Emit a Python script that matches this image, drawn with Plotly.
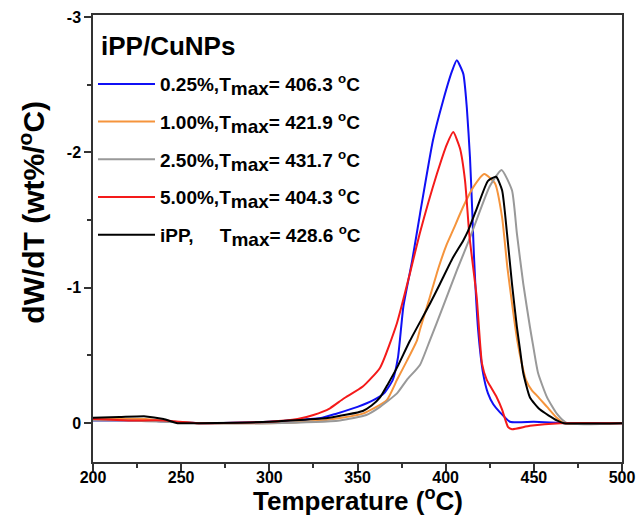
import plotly.graph_objects as go

# ---- data ----
t_blue = [200, 215, 230, 245, 260, 300, 330, 338, 350, 359, 365, 370, 373, 376, 381, 385.5, 392.8,
          398.5, 403.6, 406.3, 410, 412, 413.8, 415, 416, 418.4, 421.2, 424, 427, 430.8, 436.5, 450, 470, 500]
v_blue = [-0.02, -0.02, -0.02, -0.01, 0, -0.01, -0.04, -0.07, -0.12, -0.17, -0.22, -0.32, -0.49, -0.86,
          -1.2, -1.55, -2.09, -2.38, -2.6, -2.68, -2.58, -2.33, -1.96, -1.59, -1.25, -0.69, -0.37, -0.22,
          -0.14, -0.08, -0.01, -0.01, 0, 0]

t_orange = [200, 215, 230, 245, 260, 300, 330, 353, 366.6, 372.4, 378, 383.7, 385.4, 391, 396, 400.6,
            404, 410, 415.5, 421.9, 428, 432, 435, 438, 440.5, 443, 445.5, 449, 452, 457.5, 463, 467, 500]
v_orange = [-0.03, -0.03, -0.03, -0.01, 0, 0, -0.02, -0.07, -0.17, -0.32, -0.46, -0.61, -0.69, -0.93,
            -1.15, -1.32, -1.42, -1.6, -1.74, -1.84, -1.77, -1.52, -1.15, -0.85, -0.62, -0.45, -0.32,
            -0.24, -0.2, -0.12, -0.04, 0, 0]

t_gray = [200, 220, 240, 260, 300, 340, 355, 362.8, 372.4, 378, 385.4, 391, 398.5, 406.4, 413.8, 419.5,
          425, 431.7, 437.6, 440.4, 444, 447.8, 449.5, 452.4, 457.5, 463, 468.8, 500]
v_gray = [-0.02, -0.02, -0.01, 0, 0, -0.02, -0.06, -0.12, -0.22, -0.32, -0.43, -0.61, -0.86, -1.13,
          -1.37, -1.57, -1.75, -1.87, -1.72, -1.4, -1.03, -0.71, -0.58, -0.37, -0.19, -0.07, 0, 0]

t_red = [200, 220, 240, 260, 300, 316, 325, 334.4, 342, 353, 362.8, 372.4, 379.8, 385.5, 395, 400.7,
         404.3, 408.1, 411, 413.5, 417.6, 420.6, 423.3, 425, 429, 432, 435.4, 437.6, 447.8, 465, 500]
v_red = [-0.03, -0.02, -0.02, 0, -0.01, -0.03, -0.06, -0.11, -0.18, -0.27, -0.41, -0.74, -1.11, -1.41,
         -1.84, -2.06, -2.15, -2.03, -1.79, -1.38, -0.93, -0.44, -0.32, -0.28, -0.19, -0.1, 0.03, 0.045,
         0.02, 0, 0]

t_black = [200, 215, 230, 240, 248, 260, 300, 334, 353, 358, 362.8, 367.3, 372.4, 379.8, 391,
           396.8, 404, 410, 412.7, 417.8, 424, 428.6, 432, 434.8, 437.6, 440.4, 442.2, 444, 447.8, 453.5,
           463, 467, 500]
v_black = [-0.04, -0.045, -0.05, -0.03, 0, 0, -0.01, -0.04, -0.09, -0.13, -0.19, -0.29, -0.41, -0.61,
           -0.88, -1.03, -1.22, -1.35, -1.42, -1.59, -1.79, -1.82, -1.72, -1.4, -1.03, -0.71, -0.54,
           -0.37, -0.19, -0.1, -0.02, 0, 0]

SUB = "<sub><span style='font-size:19px'>max</span></sub>"
names = ["0.25%,T" + SUB + "= 406.3 <sup>o</sup>C",
         "1.00%,T" + SUB + "= 421.9 <sup>o</sup>C",
         "2.50%,T" + SUB + "= 431.7 <sup>o</sup>C",
         "5.00%,T" + SUB + "= 404.3 <sup>o</sup>C",
         "iPP,\u00a0\u00a0\u00a0\u00a0\u00a0T" + SUB + "= 428.6 <sup>o</sup>C"]
colors = ["#1010f5", "#f5943c", "#999999", "#f41a1a", "#000000"]
xs = [t_blue, t_orange, t_gray, t_red, t_black]
ys = [v_blue, v_orange, v_gray, v_red, v_black]

x_ticks = [200, 250, 300, 350, 400, 450, 500]
y_ticks = [-3, -2, -1, 0]
y_ticktext = ["-3", "-2", "-1", "0"]

FONT = "Liberation Sans, Arial"

fig = go.Figure()
for i in range(5):
    fig.add_trace(go.Scatter(x=xs[i], y=ys[i], mode="lines", name=names[i],
                             legendgroup=str(i),
                             line=dict(color=colors[i], width=2, shape="spline", smoothing=0.5)))

axis_font = dict(family=FONT, size=16, color="black", weight="bold")
fig.update_layout(
    width=637, height=521,
    margin=dict(l=93, r=15, t=15, b=59),
    paper_bgcolor="white", plot_bgcolor="white",
    font=dict(family=FONT, color="black"),
    legend=dict(x=0.0, y=0.888, xanchor="left", yanchor="top",
                bgcolor="rgba(0,0,0,0)",
                font=dict(family=FONT, size=19, color="black", weight="bold"),
                tracegroupgap=10, itemwidth=57),
    xaxis=dict(range=[200, 500], tickvals=x_ticks, ticks="outside", ticklen=7, tickwidth=1.5,
               tickcolor="#333", showline=True, linecolor="#333", linewidth=1.5, mirror=True,
               showgrid=False, zeroline=False, tickfont=axis_font, automargin=False,
               ticklabelposition="outside", ticklabelstandoff=-7,
               minor=dict(dtick=25, tick0=200, ticks="outside", ticklen=4, tickwidth=1.5, tickcolor="#333"),
               title=dict(text="")),
    yaxis=dict(range=[0.287, -3.015], tickvals=y_ticks, ticktext=y_ticktext, ticks="outside", ticklen=7,
               tickwidth=1.5, tickcolor="#333", showline=True, linecolor="#333", linewidth=1.5, mirror=True,
               showgrid=False, zeroline=False, tickfont=axis_font, automargin=False,
               minor=dict(dtick=0.5, tick0=0, ticks="outside", ticklen=4, tickwidth=1.5, tickcolor="#333"),
               title=dict(text="")),
    annotations=[
        dict(text="iPP/CuNPs", xref="paper", yref="paper", x=0.012, y=0.93,
             xanchor="left", yanchor="middle", showarrow=False,
             font=dict(family=FONT, size=26, color="black", weight="bold")),
        dict(text="Temperature (<sup>o</sup>C)", xref="paper", yref="paper", x=0.5, y=-0.084,
             xanchor="center", yanchor="middle", showarrow=False,
             font=dict(family=FONT, size=26, color="black", weight="bold")),
        dict(text="dW/dT (wt%/<sup>o</sup>C)", xref="paper", yref="paper", x=-0.117, y=0.558,
             xanchor="center", yanchor="middle", showarrow=False, textangle=-90,
             font=dict(family=FONT, size=30, color="black", weight="bold")),
    ],
)

fig.write_html("out.html")
